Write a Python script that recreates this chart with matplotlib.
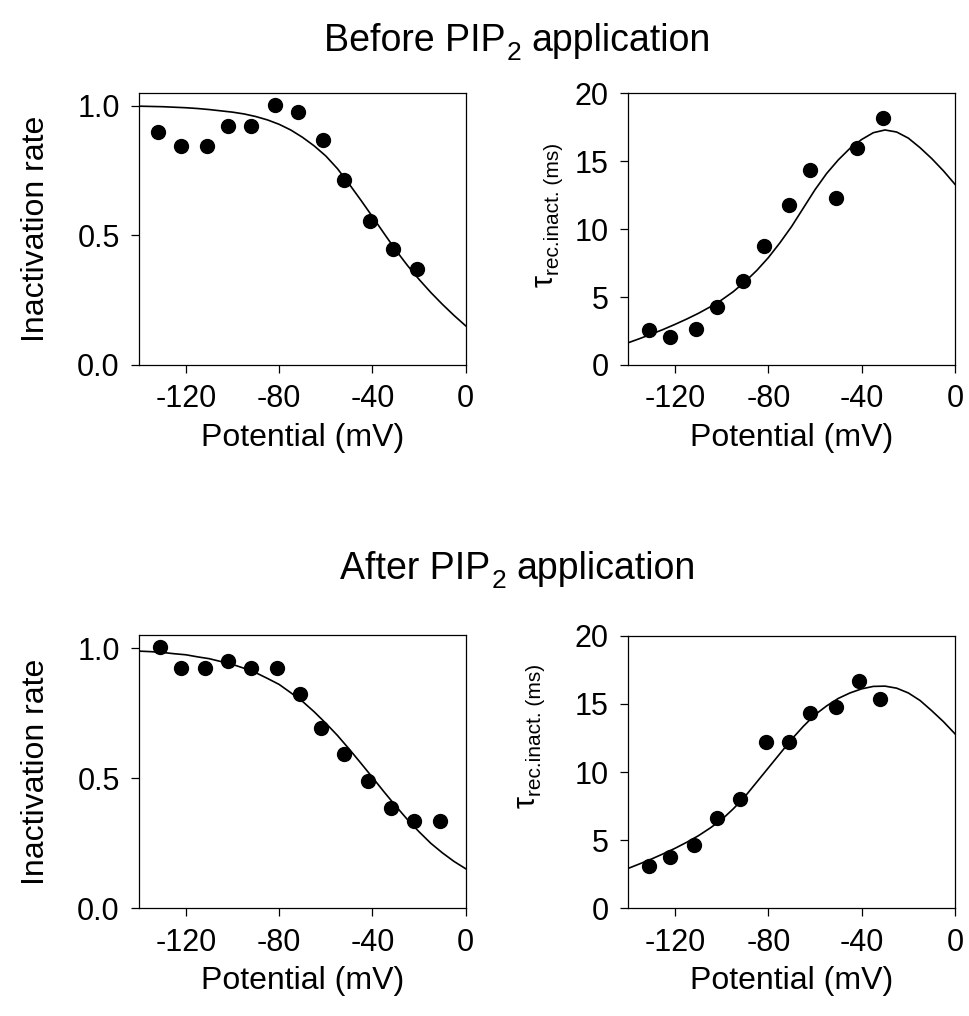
import matplotlib
matplotlib.use("Agg")
import matplotlib.pyplot as plt
from matplotlib.transforms import IdentityTransform


# 数据
# 膜电位 (mV)
v_before_rate = [-132, -122, -111, -102, -92, -82, -72, -61, -52, -41, -31, -21]
rate_before = [0.897, 0.844, 0.844, 0.923, 0.923, 1.003, 0.974, 0.869, 0.712, 0.555, 0.449, 0.372]

v_before_tau = [-131, -122, -111, -102, -91, -82, -71, -62, -51, -42, -31]
tau_before = [2.58, 2.04, 2.63, 4.25, 6.16, 8.79, 11.78, 14.36, 12.29, 16.0, 18.21]

v_after_rate = [-131, -122, -112, -102, -92, -81, -71, -62, -52, -42, -32, -22, -11]
rate_after = [1.003, 0.925, 0.925, 0.951, 0.925, 0.925, 0.823, 0.694, 0.594, 0.488, 0.386, 0.337, 0.337]

v_after_tau = [-131, -122, -112, -102, -92, -81, -71, -62, -51, -41, -32]
tau_after = [3.11, 3.74, 4.62, 6.60, 8.0, 12.2, 12.2, 14.3, 14.79, 16.7, 15.38]

# 拟合曲线（每5 mV读取一次）
v_fit = [-140, -135, -130, -125, -120, -115, -110, -105, -100, -95, -90, -85, -80, -75, -70,
         -65, -60, -55, -50, -45, -40, -35, -30, -25, -20, -15, -10, -5, 0]
rate_before_fit = [0.998, 0.997, 0.996, 0.994, 0.992, 0.989, 0.985, 0.980, 0.975, 0.968,
                   0.958, 0.945, 0.928, 0.906, 0.878, 0.845, 0.806, 0.757, 0.698, 0.636,
                   0.572, 0.507, 0.443, 0.384, 0.330, 0.280, 0.234, 0.191, 0.151]
tau_before_fit = [1.64, 1.95, 2.28, 2.62, 2.99, 3.38, 3.80, 4.27, 4.79, 5.40,
                  6.13, 6.95, 7.90, 9.0, 10.2, 11.55, 12.9, 14.1, 15.1, 15.95,
                  16.6, 17.1, 17.3, 17.15, 16.7, 16.0, 15.2, 14.3, 13.3]
rate_after_fit = [0.988, 0.986, 0.983, 0.978, 0.974, 0.966, 0.959, 0.948, 0.937, 0.922,
                  0.905, 0.883, 0.860, 0.828, 0.795, 0.755, 0.711, 0.664, 0.612, 0.558,
                  0.503, 0.447, 0.393, 0.341, 0.294, 0.250, 0.213, 0.180, 0.152]
tau_after_fit = [2.93, 3.27, 3.62, 4.00, 4.40, 4.84, 5.32, 5.88, 6.50, 7.30,
                 8.20, 9.25, 10.3, 11.35, 12.4, 13.35, 14.2, 14.85, 15.4, 15.8,
                 16.1, 16.28, 16.3, 16.15, 15.8, 15.25, 14.5, 13.7, 12.8]

rate_label = "Inactivation rate"
x_label = "Potential (mV)"
x_ticks = [-120, -80, -40, 0]
x_ticklabels = ["-120", "-80", "-40", "0"]

plt.rcParams["font.family"] = ["Liberation Sans", "DejaVu Sans"]
plt.rcParams["axes.linewidth"] = 0.9

W, H = 969.0, 1016.0
fig = plt.figure(figsize=(W / 100, H / 100), dpi=100)
renderer = fig.canvas.get_renderer()


def add_ax(l, r, t, b):
	return fig.add_axes([l / W, 1 - b / H, (r - l) / W, (b - t) / H])


def style_axes(ax, ylim, yticks, yticklabels):
	ax.set_xlim(-140, 0)
	ax.set_ylim(*ylim)
	ax.set_xticks(x_ticks)
	ax.set_xticklabels(x_ticklabels)
	ax.set_yticks(yticks)
	ax.set_yticklabels(yticklabels)
	ax.tick_params(direction="out", length=6, width=0.9, labelsize=22, pad=8,
		top=False, right=False)
	ax.set_xlabel(x_label, fontsize=23, labelpad=6)


# 按段绘制文字（用于下标），x0,y0为像素坐标（原点在左上）
# runs: (文字, 字号, 下移像素, 前置间距像素)
def text_runs(x0, y0, runs, rotation=0, center=True):
	objs = []
	total = 0
	for s, size, drop, gap in runs:
		t = fig.text(0, 0, s, fontsize=size, rotation=rotation, rotation_mode="anchor",
			ha="left", va="baseline", transform=IdentityTransform())
		bb = t.get_window_extent(renderer)
		length = bb.width if rotation == 0 else bb.height
		objs.append((t, length, drop, gap))
		total += length + gap
	pos = -total / 2 if center else 0
	yb = H - y0
	for t, length, drop, gap in objs:
		pos += gap
		if rotation == 0:
			t.set_position((x0 + pos, yb - drop))
		else:
			t.set_position((x0 + drop, yb + pos))
		pos += length


ax_tl = add_ax(139.3, 465.7, 92.7, 365.0)
ax_tr = add_ax(628.3, 955.0, 93.3, 365.0)
ax_bl = add_ax(139.3, 465.7, 635.0, 908.3)
ax_br = add_ax(628.3, 955.0, 635.7, 908.3)

panels = [
	(ax_tl, v_before_rate, rate_before, rate_before_fit, "rate"),
	(ax_tr, v_before_tau, tau_before, tau_before_fit, "tau"),
	(ax_bl, v_after_rate, rate_after, rate_after_fit, "rate"),
	(ax_br, v_after_tau, tau_after, tau_after_fit, "tau"),
]

for ax, xs, ys, fit, kind in panels:
	ax.plot(v_fit, fit, color="black", lw=1.2)
	ax.plot(xs, ys, "o", color="black", markersize=10, clip_on=False)
	if kind == "rate":
		style_axes(ax, (0, 1.05), [0, 0.5, 1.0], ["0.0", "0.5", "1.0"])
		ax.set_ylabel(rate_label, fontsize=23)
		ax.yaxis.set_label_coords(-0.272, 0.5)
	else:
		style_axes(ax, (0, 20), [0, 5, 10, 15, 20], ["0", "5", "10", "15", "20"])

# τ 轴标签
tau_runs = [("τ", 22, 0, 0), ("rec.inact. (ms)", 15, 6, 0)]
text_runs(553, 287, tau_runs, rotation=90, center=False)
text_runs(535, 808, tau_runs, rotation=90, center=False)

# 标题
text_runs(517, 51, [("Before PIP", 27, 0, 0), ("2", 19, 9, 1), ("application", 27, 0, 10)])
text_runs(518, 579, [("After PIP", 27, 0, 0), ("2", 19, 9, 1), ("application", 27, 0, 10)])

fig.savefig("out.png", dpi=100)
